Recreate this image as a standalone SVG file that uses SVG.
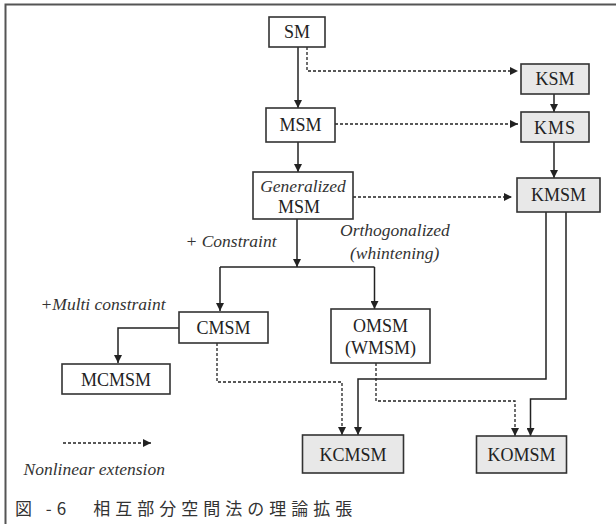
<svg xmlns="http://www.w3.org/2000/svg" width="616" height="524" viewBox="0 0 616 524">
<defs>
<marker id="ah" viewBox="0 0 10 10" refX="10" refY="5" markerWidth="9" markerHeight="8" markerUnits="userSpaceOnUse" orient="auto">
<path d="M0,0 L10,5 L0,10 Z" fill="#222"/>
</marker>
</defs>
<style>
.box{fill:#fff;stroke:#333;stroke-width:1.6}
.kbox{fill:#e8e8e8;stroke:#333;stroke-width:1.6}
.lbl{font-family:"Liberation Serif",serif;font-size:18px;fill:#222;text-anchor:middle}
.it{font-family:"Liberation Serif",serif;font-style:italic;font-size:17.5px;fill:#333}
.solid{fill:none;stroke:#222;stroke-width:1.5}
.dot{fill:none;stroke:#222;stroke-width:1.3;stroke-dasharray:3 2}
.cap{font-family:"Noto Sans CJK JP",sans-serif;font-size:17px;fill:#333;letter-spacing:5px}
</style>
<rect width="616" height="524" fill="#fff"/>
<path d="M616,4.5 H5.5 V524" fill="none" stroke="#555" stroke-width="2"/>

<g id="connectors">
<path class="solid" d="M298,47 V108" marker-end="url(#ah)"/>
<path class="dot" d="M307,47 V71 H518" marker-end="url(#ah)"/>
<path class="dot" d="M335,124 H518" marker-end="url(#ah)"/>
<path class="solid" d="M554,94 V112" marker-end="url(#ah)"/>
<path class="solid" d="M554,142 V178" marker-end="url(#ah)"/>
<path class="solid" d="M298,142 V172" marker-end="url(#ah)"/>
<path class="dot" d="M353,197 H512" marker-end="url(#ah)"/>
<path class="solid" d="M297,219 V267" marker-end="url(#ah)"/>
<path class="solid" d="M220,267 H374.5"/>
<path class="solid" d="M220,267 V311" marker-end="url(#ah)"/>
<path class="solid" d="M374.5,267 V309" marker-end="url(#ah)"/>
<path class="solid" d="M179,328 H118 V363" marker-end="url(#ah)"/>
<path class="solid" d="M546,212 V379 H358 V435" marker-end="url(#ah)"/>
<path class="solid" d="M566,212 V399 H530.5 V436" marker-end="url(#ah)"/>
<path class="dot" d="M217,343 V382 H342 V435" marker-end="url(#ah)"/>
<path class="dot" d="M376,363 V401 H515 V436" marker-end="url(#ah)"/>
<path class="dot" d="M63,443 H151" marker-end="url(#ah)"/>
</g>

<g id="SM"><rect class="box" x="269" y="17" width="56" height="30"/><text class="lbl" x="297" y="38">SM</text></g>
<g id="KSM"><rect class="kbox" x="521" y="64" width="68" height="30"/><text class="lbl" x="555" y="85">KSM</text></g>
<g id="MSM"><rect class="box" x="266" y="108" width="69" height="34"/><text class="lbl" x="300.5" y="131">MSM</text></g>
<g id="KMS"><rect class="kbox" x="521" y="112" width="68" height="30"/><text class="lbl" x="555" y="134" letter-spacing="1">KMS</text></g>
<g id="GMSM"><rect class="box" x="253" y="172" width="100" height="47"/><text class="it" x="303" y="192" text-anchor="middle">Generalized</text><text class="lbl" x="299" y="213">MSM</text></g>
<g id="KMSM"><rect class="kbox" x="517" y="178" width="83" height="34"/><text class="lbl" x="558.5" y="201">KMSM</text></g>
<g id="CMSM"><rect class="box" x="179" y="312" width="89" height="31"/><text class="lbl" x="223.5" y="334">CMSM</text></g>
<g id="OMSM"><rect class="box" x="331" y="309" width="99" height="54"/><text class="lbl" x="380.5" y="332" font-size="16">OMSM</text><text class="lbl" x="380.5" y="354" font-size="16">(WMSM)</text></g>
<g id="MCMSM"><rect class="box" x="62" y="364" width="108" height="30"/><text class="lbl" x="116" y="386">MCMSM</text></g>
<g id="KCMSM"><rect class="kbox" x="302.5" y="435" width="101" height="38"/><text class="lbl" x="353" y="461">KCMSM</text></g>
<g id="KOMSM"><rect class="kbox" x="476.5" y="436" width="90" height="37"/><text class="lbl" x="521.5" y="461">KOMSM</text></g>

<g id="labels">
<text class="it" x="185.5" y="247">+  Constraint</text>
<text class="it" x="340" y="236">Orthogonalized</text>
<text class="it" x="350" y="259">(whintening)</text>
<text class="it" x="40.5" y="310">+Multi constraint</text>
<text class="it" x="23.5" y="475">Nonlinear extension</text>
<text class="cap" x="15" y="515">図 -6　相互部分空間法の理論拡張</text>
</g>
</svg>
